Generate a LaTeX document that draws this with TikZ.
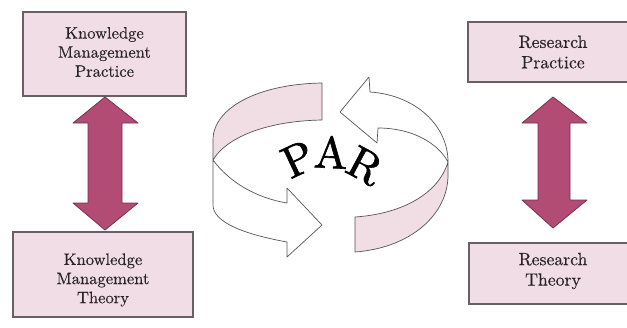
\documentclass[tikz,border=0pt]{standalone}
\usepackage{fontspec}
\setmainfont{lmroman10-regular.otf}[FakeBold=0.35]
\newfontfamily\parfont{lmroman10-regular.otf}[FakeBold=1.4]
\definecolor{boxfill}{RGB}{241,221,230}
\definecolor{boxline}{RGB}{105,95,100}
\definecolor{arrowfill}{RGB}{178,76,116}
\definecolor{arrowline}{RGB}{120,50,80}
\definecolor{bandpink}{RGB}{240,222,228}
\definecolor{bandline}{RGB}{85,85,85}
\definecolor{txt}{RGB}{40,36,38}
\begin{document}
\begin{tikzpicture}[x=1bp,y=-1bp,
  box/.style={draw=boxline, line width=1.2bp, fill=boxfill, inner sep=0pt},
  boxtext/.style={align=center, font=\fontsize{16.6}{19.2}\selectfont, text=txt, inner sep=0pt},
  rboxtext/.style={align=center, font=\fontsize{17.8}{20.5}\selectfont, text=txt, inner sep=0pt},
  blockarrow/.style={draw=arrowline, line width=0.8bp, fill=arrowfill, line join=round},
  band/.style={draw=bandline, line width=0.7bp, line join=round},
  letter/.style={font=\parfont\fontsize{45}{45}\selectfont, inner sep=0pt, text=black}]
\useasboundingbox (0,0) rectangle (627,327);
\fill[white] (0,0) rectangle (627,327);
\clip (0,0) rectangle (627,327);

% boxes
\node[box, minimum width=163bp, minimum height=84bp] (kmp) at (104.5,54) {};
\node[box, minimum width=180bp, minimum height=85bp] (kmt) at (103,274.5) {};
\node[box, minimum width=172bp, minimum height=60bp] (rp) at (554,52) {};
\node[box, minimum width=171bp, minimum height=61bp] (rt) at (554.5,273.5) {};

\node[boxtext] (kmpt) at (104.5,52) {Knowledge\\Management\\Practice};
\node[boxtext] (kmtt) at (103,280) {Knowledge\\Management\\Theory};
\node[rboxtext] (rpt) at (553,52) {Research\\Practice};
\node[rboxtext] (rtt) at (553,271) {Research\\Theory};

% double arrows
\coordinate (lat) at (105,97);
\coordinate (lab) at (105,230);
\draw[blockarrow] (lat) -- ++(33,26) -- ++(-16,0) -- ++(0,80) -- ++(16,0) -- (lab)
  -- ++(-32,-27) -- ++(15,0) -- ++(0,-80) -- ++(-15,0) -- cycle;
\coordinate (rat) at (553,97);
\coordinate (rab) at (553,228);
\draw[blockarrow] (rat) -- ++(34,26) -- ++(-17,0) -- ++(0,77) -- ++(17,0) -- (rab)
  -- ++(-31,-28) -- ++(16,0) -- ++(0,-77) -- ++(-16,0) -- cycle;

% circular arrows: upper-left
\filldraw[band, fill=bandpink]
  (322,83) .. controls (258,84) and (213,108) .. (213,140) -- (213,160)
  .. controls (226,138) and (265,121) .. (322,120) -- cycle;
\filldraw[band, fill=white]
  (213,160) .. controls (230,183) and (257,198) .. (287,203)
  -- (287,188) -- (322,225) -- (287,257) -- (287,242)
  .. controls (243,234) and (213,222) .. (213,205) -- cycle;

% circular arrows: lower-right
\filldraw[band, fill=bandpink]
  (355,217) -- (355,252) .. controls (410,248) and (448,215) .. (448,175) -- (448,162)
  .. controls (438,195) and (400,214) .. (355,217) -- cycle;
\filldraw[band, fill=white]
  (369,77) -- (370,92) .. controls (415,95) and (448,125) .. (448,162)
  .. controls (438,143) and (412,128) .. (378,128)
  -- (377,143) -- (340,112) -- cycle;

% PAR
\node[letter, rotate=25] (p) at (298,159) {P};
\node[letter, rotate=-3] (a) at (331,152) {A};
\node[letter, rotate=-28] (r) at (365,166) {R};
\end{tikzpicture}
\end{document}
